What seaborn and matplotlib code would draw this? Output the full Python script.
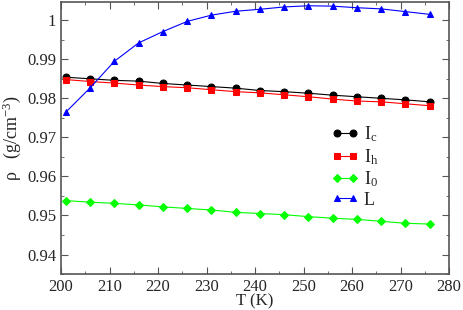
import seaborn as sns
import pandas as pd
import matplotlib.pyplot as plt
from matplotlib.ticker import MultipleLocator

sns.set_style("ticks")
plt.rcParams['font.family'] = ['Liberation Serif', 'DejaVu Serif']
plt.rcParams['mathtext.fontset'] = 'custom'
plt.rcParams['mathtext.rm'] = 'Liberation Serif'
plt.rcParams['mathtext.it'] = 'Liberation Serif'

# temperaturas (K)
T = [201, 206, 211, 216, 221, 226, 231, 236, 241, 246, 251, 256, 261, 266, 271, 276]

rho_Ic = [0.9854, 0.9850, 0.9846, 0.9844, 0.9838, 0.9834, 0.9830, 0.9826,
          0.9820, 0.9817, 0.9813, 0.9808, 0.9804, 0.9800, 0.9796, 0.9791]
rho_Ih = [0.9848, 0.9843, 0.9839, 0.9834, 0.9830, 0.9827, 0.9822, 0.9817,
          0.9814, 0.9809, 0.9804, 0.9798, 0.9793, 0.9791, 0.9786, 0.9781]
rho_I0 = [0.9538, 0.9534, 0.9531, 0.9527, 0.9522, 0.9518, 0.9514, 0.9508,
          0.9505, 0.9502, 0.9497, 0.9493, 0.9490, 0.9485, 0.9480, 0.9478]
rho_L = [0.9765, 0.9827, 0.9895, 0.9942, 0.9971, 0.9997, 1.0013, 1.0023,
         1.0028, 1.0034, 1.0037, 1.0036, 1.0032, 1.0029, 1.0022, 1.0015]

series = [
    (r'I$_\mathrm{c}$', rho_Ic, 'black', 'o'),
    (r'I$_\mathrm{h}$', rho_Ih, 'red', 's'),
    (r'I$_\mathrm{0}$', rho_I0, '#00ff00', 'D'),
    ('L', rho_L, 'blue', '^'),
]

fig = plt.figure(figsize=(4.63, 3.10), dpi=100)
ax = fig.add_axes([0.132, 0.116, 0.838, 0.878])

for label, vals, color, marker in series:
    df = pd.DataFrame({'T': T, 'rho': vals})
    ms = 4 if marker == 'D' else 5
    sns.lineplot(data=df, x='T', y='rho', ax=ax, color=color, marker=marker,
                 markersize=ms, markeredgecolor=color, linewidth=0.8, label=label)

ax.set_xlim(200, 280)
ax.set_ylim(0.935, 1.0047)
ax.xaxis.set_major_locator(MultipleLocator(10))
ax.xaxis.set_minor_locator(MultipleLocator(5))
ax.yaxis.set_minor_locator(MultipleLocator(0.005))
ax.set_yticks([0.94, 0.95, 0.96, 0.97, 0.98, 0.99, 1.0])
ax.set_yticklabels(['0.94', '0.95', '0.96', '0.97', '0.98', '0.99', '1'])
ax.tick_params(which='both', direction='in', top=True, right=True, labelsize=12, color='#555555')
ax.tick_params(which='major', length=5)
ax.tick_params(which='minor', length=2.5)
for s in ax.spines.values():
    s.set_color('#555555')
    s.set_linewidth(1.2)

ax.set_xlabel('T (K)', fontsize=12, labelpad=-1)
ax.set_ylabel(r'$\mathrm{\rho}$   (g/cm$^{-3}$)', fontsize=13, labelpad=3)

ax.legend(loc='center left', bbox_to_anchor=(0.675, 0.395), frameon=False, numpoints=2,
          handlelength=1.45, fontsize=13, labelspacing=0.15, handletextpad=0.3, borderpad=0)

fig.savefig('out.png', dpi=100)
